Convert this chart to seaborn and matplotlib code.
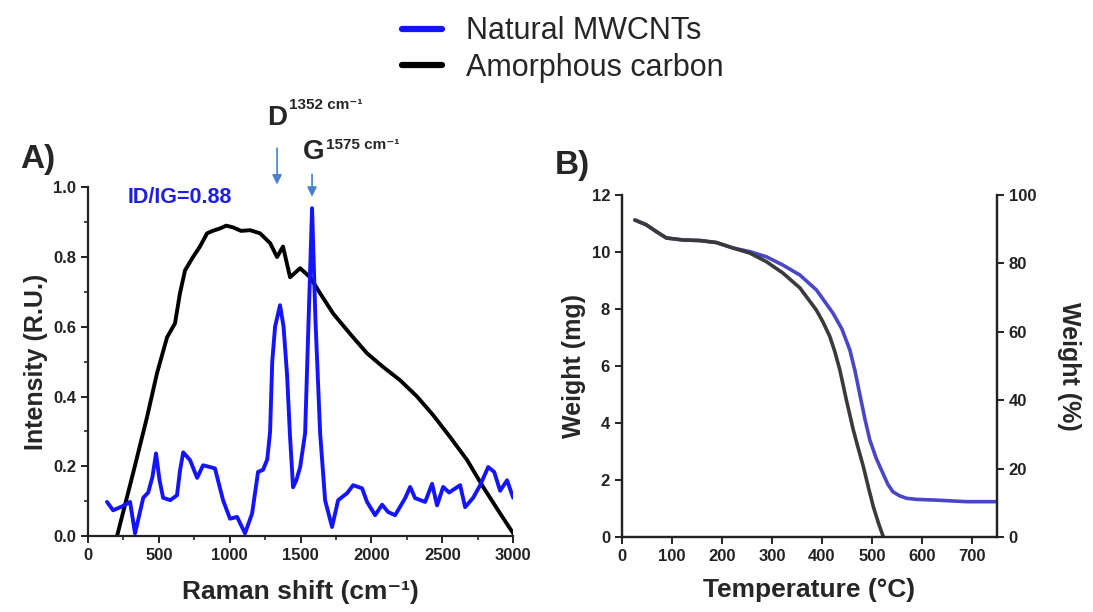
import matplotlib
matplotlib.use("Agg")
import matplotlib.pyplot as plt
from matplotlib.lines import Line2D
from matplotlib.ticker import MultipleLocator
import pandas as pd
import seaborn as sns

# Raman spectra (A)
raman_mwcnt_x = [134, 177, 240, 297, 332, 390, 425, 455, 480, 505, 530, 580, 628, 650, 672,
                 720, 770, 812, 861, 896, 953, 1002, 1052, 1108, 1158, 1200, 1235, 1265,
                 1285, 1300, 1320, 1355, 1380, 1405, 1425, 1447, 1470, 1497, 1532, 1555,
                 1581, 1605, 1638, 1673, 1722, 1765, 1828, 1871, 1934, 1969, 2026, 2075,
                 2118, 2167, 2238, 2273, 2308, 2379, 2428, 2463, 2506, 2548, 2626, 2661,
                 2718, 2767, 2824, 2866, 2908, 2957, 3000]
raman_mwcnt_y = [0.098, 0.074, 0.085, 0.098, 0.008, 0.11, 0.125, 0.17, 0.237, 0.16, 0.11,
                 0.103, 0.117, 0.19, 0.24, 0.218, 0.167, 0.203, 0.198, 0.194, 0.103, 0.05,
                 0.055, 0.008, 0.065, 0.184, 0.19, 0.22, 0.3, 0.5, 0.6, 0.662, 0.6, 0.46,
                 0.29, 0.14, 0.16, 0.198, 0.295, 0.6, 0.94, 0.62, 0.295, 0.103, 0.026,
                 0.103, 0.123, 0.146, 0.137, 0.098, 0.06, 0.09, 0.069, 0.06, 0.109, 0.141,
                 0.109, 0.098, 0.15, 0.088, 0.141, 0.125, 0.146, 0.083, 0.11, 0.146, 0.198,
                 0.184, 0.13, 0.16, 0.11]

raman_amorph_x = [205, 318, 416, 487, 558, 614, 649, 685, 741, 790, 840, 880, 932, 975,
                  1024, 1080, 1144, 1214, 1285, 1334, 1376, 1426, 1497, 1567, 1638, 1730,
                  1849, 1969, 2082, 2202, 2322, 2435, 2555, 2675, 2788, 2908, 3000]
raman_amorph_y = [0.0, 0.18, 0.34, 0.467, 0.57, 0.61, 0.696, 0.762, 0.8, 0.83, 0.868,
                  0.875, 0.882, 0.89, 0.885, 0.875, 0.877, 0.868, 0.84, 0.8, 0.83, 0.742,
                  0.768, 0.742, 0.696, 0.638, 0.58, 0.524, 0.485, 0.447, 0.4, 0.347, 0.284,
                  0.218, 0.141, 0.065, 0.008]

# TGA curves (B)
tga_mwcnt_t = [26, 49, 70, 89, 122, 156, 189, 222, 256, 289, 322, 356, 389, 422, 440, 456,
               466, 476, 486, 496, 509, 522, 532, 542, 555, 569, 590, 622, 690, 750]
tga_mwcnt_w = [11.12, 10.95, 10.7, 10.49, 10.42, 10.4, 10.33, 10.14, 10.01, 9.83, 9.54,
               9.19, 8.67, 7.86, 7.3, 6.56, 5.85, 5.0, 4.15, 3.4, 2.75, 2.24, 1.85, 1.59,
               1.45, 1.36, 1.32, 1.3, 1.24, 1.24]
tga_amorph_t = [26, 49, 70, 89, 122, 156, 189, 222, 256, 289, 322, 356, 389, 402, 416, 426,
                436, 449, 463, 473, 483, 493, 503, 513, 523]
tga_amorph_w = [11.12, 10.95, 10.7, 10.49, 10.42, 10.4, 10.33, 10.14, 9.96, 9.66, 9.26,
                8.74, 7.96, 7.55, 7.03, 6.5, 5.86, 4.81, 3.75, 3.1, 2.47, 1.75, 1.06, 0.5,
                0.0]

labels = ["Natural MWCNTs", "Amorphous carbon"]
raman_colors = ["#1414ff", "#000000"]
tga_colors = ["#4a46c8", "#3a3a3a"]

sns.set_theme(style="ticks")
plt.rcParams["font.family"] = ["Liberation Sans", "DejaVu Sans"]

fig = plt.figure(figsize=(10.93, 6.12), dpi=100)
axA = fig.add_axes([0.0805, 0.124, 0.389, 0.570])
axB = fig.add_axes([0.569, 0.1225, 0.343, 0.559])

# Panel A
dfA1 = pd.DataFrame({"x": raman_mwcnt_x, "y": raman_mwcnt_y})
dfA2 = pd.DataFrame({"x": raman_amorph_x, "y": raman_amorph_y})
sns.lineplot(data=dfA2, x="x", y="y", ax=axA, color=raman_colors[1], lw=2.8)
sns.lineplot(data=dfA1, x="x", y="y", ax=axA, color=raman_colors[0], lw=2.8)
axA.set_xlim(0, 3000)
axA.set_ylim(0, 1.0)
axA.xaxis.set_major_locator(MultipleLocator(500))
axA.xaxis.set_minor_locator(MultipleLocator(250))
axA.yaxis.set_major_locator(MultipleLocator(0.2))
axA.yaxis.set_minor_locator(MultipleLocator(0.1))
axA.yaxis.set_major_formatter(matplotlib.ticker.FormatStrFormatter("%.1f"))
axA.set_xlabel("Raman shift (cm⁻¹)", fontsize=19, fontweight="bold", labelpad=12)
axA.set_ylabel("Intensity (R.U.)", fontsize=18, fontweight="bold")
for s in ["top", "right"]:
    axA.spines[s].set_visible(False)

axA.text(282, 0.97, "ID/IG=0.88", color="#1f1fe0", fontsize=15.5, fontweight="bold",
         va="center", ha="left")
arrow_c = "#4a7fd0"
axA.annotate("", xy=(1334, 1.0), xytext=(1334, 1.12), annotation_clip=False,
             arrowprops=dict(arrowstyle="-|>", color=arrow_c, lw=1.2, mutation_scale=14))
axA.annotate("", xy=(1581, 0.965), xytext=(1581, 1.045), annotation_clip=False,
             arrowprops=dict(arrowstyle="-|>", color=arrow_c, lw=1.2, mutation_scale=14))
axA.text(1334, 1.20, "D", fontsize=20, fontweight="bold", ha="center", va="center")
axA.text(1420, 1.235, "1352 cm⁻¹", fontsize=11, fontweight="bold", ha="left", va="center")
axA.text(1590, 1.10, "G", fontsize=20, fontweight="bold", ha="center", va="center")
axA.text(1680, 1.12, "1575 cm⁻¹", fontsize=11, fontweight="bold", ha="left", va="center")

# Panel B
dfB1 = pd.DataFrame({"t": tga_mwcnt_t, "w": tga_mwcnt_w})
dfB2 = pd.DataFrame({"t": tga_amorph_t, "w": tga_amorph_w})
sns.lineplot(data=dfB1, x="t", y="w", ax=axB, color=tga_colors[0], lw=2.6)
sns.lineplot(data=dfB2, x="t", y="w", ax=axB, color=tga_colors[1], lw=2.6)
axB.set_xlim(0, 750)
axB.set_ylim(0, 12)
axB.xaxis.set_major_locator(MultipleLocator(100))
axB.yaxis.set_major_locator(MultipleLocator(2))
axB.set_xlabel("Temperature (°C)", fontsize=19, fontweight="bold", labelpad=10)
axB.set_ylabel("Weight (mg)", fontsize=18, fontweight="bold")
axB.spines["top"].set_visible(False)
axB2 = axB.twinx()
axB2.set_ylim(0, 100)
axB2.yaxis.set_major_locator(MultipleLocator(20))
axB2.set_ylabel("Weight (%)", fontsize=18, fontweight="bold", rotation=270, labelpad=32)
axB2.spines["top"].set_visible(False)

for ax in [axA, axB, axB2]:
    for s in ax.spines.values():
        s.set_linewidth(1.6)
        s.set_color("#222222")
    ax.tick_params(which="major", direction="out", length=5, width=1.4, labelsize=12,
                   colors="#222222")
    ax.tick_params(which="minor", direction="out", length=3, width=1.2)
    for lbl in ax.get_xticklabels() + ax.get_yticklabels():
        lbl.set_fontweight("bold")

fig.text(0.018, 0.74, "A)", fontsize=24, fontweight="bold", va="center")
fig.text(0.508, 0.73, "B)", fontsize=24, fontweight="bold", va="center")

handles = [Line2D([], [], color=raman_colors[0], lw=4.5),
           Line2D([], [], color=raman_colors[1], lw=4.5)]
fig.legend(handles, labels, loc="upper center", bbox_to_anchor=(0.515, 1.018),
           frameon=False, fontsize=22, handlelength=1.3, handletextpad=0.8,
           labelspacing=0.2)

fig.savefig("out.png", dpi=100)
